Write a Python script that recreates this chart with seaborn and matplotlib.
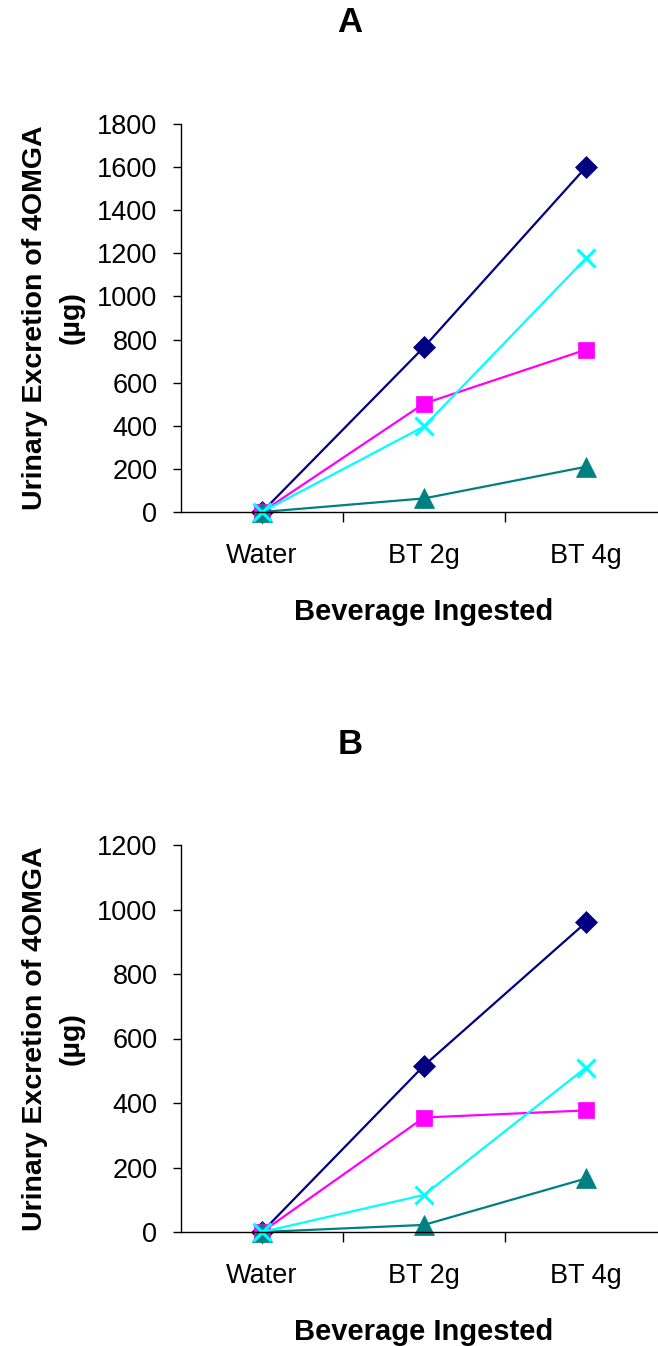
import numpy as np
import pandas as pd
import seaborn as sns
import matplotlib.pyplot as plt

# Data
beverages = ['Water', 'BT 2g', 'BT 4g']

# panel A
a_diamond = [0, 765, 1600]
a_square = [0, 503, 753]
a_triangle = [0, 63, 210]
a_cross = [0, 397, 1177]

# panel B
b_diamond = [0, 516, 960]
b_square = [0, 355, 377]
b_triangle = [0, 22, 166]
b_cross = [0, 115, 510]

series_names = ['s1', 's2', 's3', 's4']
colors = ['#000080', '#FF00FF', '#008080', '#00FFFF']
markers = ['D', 's', '^', 'x']
msizes = [11, 11.5, 14, 13]

sns.set_style('white')
plt.rcParams['font.family'] = ['Liberation Sans', 'DejaVu Sans']
plt.rcParams['text.color'] = 'black'
plt.rcParams['axes.labelcolor'] = 'black'
plt.rcParams['xtick.color'] = 'black'
plt.rcParams['ytick.color'] = 'black'

fig = plt.figure(figsize=(6.58, 13.46), dpi=100)

# axes placed like the original Excel chart (right end runs past the figure edge)
ax_a = fig.add_axes([181 / 658, 1 - 512 / 1346, 486 / 658, 388 / 1346])
ax_b = fig.add_axes([181 / 658, 1 - 1232 / 1346, 486 / 658, 387 / 1346])


def make_df(vals):
    rows = []
    for name, v in zip(series_names, vals):
        for bev, y in zip(beverages, v):
            rows.append({'beverage': bev, 'value': y, 'series': name})
    return pd.DataFrame(rows)


def draw_panel(ax, vals, ymax, title, title_y):
    df = make_df(vals)
    for name, c, m, ms in zip(series_names, colors, markers, msizes):
        sub = df[df['series'] == name]
        sns.lineplot(data=sub, x='beverage', y='value', ax=ax, color=c,
                     marker=m, markersize=ms, linewidth=1.6,
                     markeredgecolor=c, markeredgewidth=2.2 if m == 'x' else 0.5,
                     clip_on=False, sort=False)

    ax.set_xlim(-0.5, 2.5)
    ax.set_ylim(0, ymax)
    ax.set_yticks(np.arange(0, ymax + 1, 200))
    ax.set_xticks([0, 1, 2])
    ax.set_xticklabels(beverages)
    ax.set_xticks([0.5, 1.5], minor=True)

    for s in ['top', 'right']:
        ax.spines[s].set_visible(False)
    for s in ['left', 'bottom']:
        ax.spines[s].set_color('black')
        ax.spines[s].set_linewidth(1)

    ax.tick_params(axis='y', which='major', direction='out', length=6,
                   width=1, color='black', pad=11, labelsize=19.5, left=True)
    ax.tick_params(axis='x', which='major', length=0, pad=22, labelsize=19.5,
                   bottom=True)
    ax.tick_params(axis='x', which='minor', direction='out', length=7,
                   width=1, color='black', bottom=True)

    ax.set_xlabel('Beverage Ingested', fontsize=21, fontweight='bold', labelpad=21)
    ax.set_ylabel('Urinary Excretion of 4OMGA\n(µg)', fontsize=20.5,
                  fontweight='bold', labelpad=9, linespacing=1.55)
    ax.grid(False)

    fig.text(350 / 658, 1 - title_y / 1346, title, fontsize=25,
             fontweight='bold', ha='center', va='center')


draw_panel(ax_a, [a_diamond, a_square, a_triangle, a_cross], 1800, 'A', 23)
draw_panel(ax_b, [b_diamond, b_square, b_triangle, b_cross], 1200, 'B', 745)

fig.savefig('out.png', dpi=100)
